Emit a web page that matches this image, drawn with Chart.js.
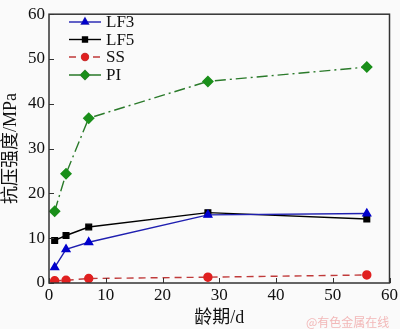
<!DOCTYPE html>
<html><head><meta charset="utf-8">
<script src="https://cdn.jsdelivr.net/npm/chart.js@4"></script>
<style>
html,body{margin:0;padding:0;background:#fafafa;}
#wrap{position:relative;width:400px;height:329px;}
#wm{position:absolute;left:306px;top:313px;font:12px "Noto Sans CJK SC";color:#f2b8b8;white-space:nowrap;}
</style></head>
<body><div id="wrap"><canvas id="c" width="400" height="329"></canvas><div id="wm">@有色金属在线</div></div>
<script>
const ages = [1, 3, 7, 28, 56];
const seriesNames = ['LF3', 'LF5', 'SS', 'PI'];
const lf3 = [3.5, 7.5, 9.1, 15.2, 15.5];
const lf5 = [9.5, 10.6, 12.5, 15.7, 14.3];
const ss = [0.5, 0.6, 1.0, 1.3, 1.8];
const pi = [16.0, 24.4, 36.8, 45.0, 48.2];
const xTitle = '龄期/d';
const yTitle = '抗压强度/MPa';

const styles = [
  {line:'#1f1fb0', fill:'#0000cc', pt:'triangle', r:4.5, dash:[]},
  {line:'#000000', fill:'#000000', pt:'rect', r:4, dash:[]},
  {line:'#c03a3a', fill:'#e02020', pt:'circle', r:4, dash:[7,5]},
  {line:'#2a7a2a', fill:'#1a8f1a', pt:'rectRot', r:5, dash:[11,4,2,4]}
];
const vals = [lf3, lf5, ss, pi];
const datasets = vals.map((v,i)=>({
  label: seriesNames[i],
  data: ages.map((a,j)=>({x:a,y:v[j]})),
  borderColor: styles[i].line,
  backgroundColor: styles[i].fill,
  pointBackgroundColor: styles[i].fill,
  pointBorderColor: styles[i].fill,
  pointStyle: styles[i].pt,
  pointRadius: styles[i].r,
  borderWidth: 1.4,
  borderDash: styles[i].dash,
  tension: 0
}));

const serif = '"Liberation Serif", "Times New Roman", serif';
const titleFont = '"Liberation Serif", "Noto Sans CJK SC", serif';

const frame = {
  id:'frame',
  afterDraw(chart){
    const {ctx, chartArea:a, scales} = chart;
    ctx.save();
    ctx.strokeStyle = '#333'; ctx.lineWidth = 1.5; ctx.setLineDash([]);
    ctx.strokeRect(a.left, a.top, a.right-a.left, a.bottom-a.top);
    ctx.lineWidth = 1;
    scales.x.ticks.forEach(t=>{
      const px = Math.round(scales.x.getPixelForValue(t.value))+0.5;
      ctx.beginPath(); ctx.moveTo(px, a.bottom); ctx.lineTo(px, a.bottom-5); ctx.stroke();
    });
    scales.y.ticks.forEach(t=>{
      const py = Math.round(scales.y.getPixelForValue(t.value))+0.5;
      ctx.beginPath(); ctx.moveTo(a.left, py); ctx.lineTo(a.left+5, py); ctx.stroke();
    });
    // legend
    const ly = [22, 39.5, 57, 75];
    chart.data.datasets.forEach((ds,i)=>{
      const y = ly[i];
      ctx.strokeStyle = ds.borderColor; ctx.lineWidth = 1.4;
      ctx.setLineDash(ds.borderDash);
      ctx.beginPath(); ctx.moveTo(69, y); ctx.lineTo(101, y); ctx.stroke();
      ctx.setLineDash([]);
      ctx.fillStyle = ds.pointBackgroundColor;
      Chart.helpers.drawPoint(ctx, {pointStyle: ds.pointStyle, radius: ds.pointRadius - 0.5, borderWidth: 1}, 85, y);
      ctx.fill();
      ctx.fillStyle = '#111';
      ctx.font = '17px ' + serif;
      ctx.textBaseline = 'middle'; ctx.textAlign = 'left';
      ctx.fillText(ds.label, 106, y+1);
    });
    ctx.restore();
  }
};

new Chart(document.getElementById('c'), {
  type: 'line',
  data: {datasets},
  plugins: [frame],
  options: {
    responsive: false,
    animation: false,
    layout: {padding: {top: 6, right: 8, left: 0, bottom: 0}},
    plugins: {legend: {display: false}, tooltip: {enabled: false}},
    scales: {
      x: {
        type: 'linear', min: 0, max: 60,
        ticks: {stepSize: 10, color: '#111', font: {family: serif, size: 17}, padding: 2, maxRotation: 0},
        grid: {drawOnChartArea: false, drawTicks: false},
        border: {display: false},
        title: {display: true, text: xTitle, color: '#111', font: {family: titleFont, size: 18}, padding: {top: 5, bottom: 0}},
        afterFit(s){ s.height = 46; }
      },
      y: {
        min: 0, max: 60,
        ticks: {stepSize: 10, color: '#111', font: {family: serif, size: 17}, padding: 4},
        grid: {drawOnChartArea: false, drawTicks: false},
        border: {display: false},
        title: {display: true, text: yTitle, color: '#111', font: {family: titleFont, size: 18}, padding: {top: 0, bottom: 0}},
        afterFit(s){ s.width = 49; }
      }
    }
  }
});
</script></body></html>
